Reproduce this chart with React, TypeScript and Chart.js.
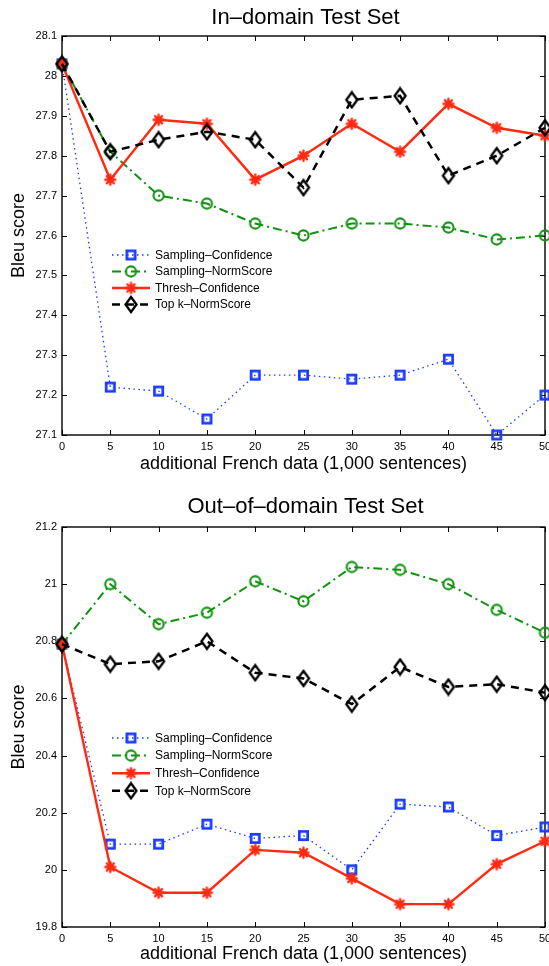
import React, { useEffect, useRef } from 'react';
import { Chart, registerables } from 'chart.js';
Chart.register(...registerables);

// ---------- data ----------
const xValues = [0, 5, 10, 15, 20, 25, 30, 35, 40, 45, 50];
const seriesNames = ['Sampling–Confidence', 'Sampling–NormScore', 'Thresh–Confidence', 'Top k–NormScore'];

const inSamplingConfidence = [28.03, 27.22, 27.21, 27.14, 27.25, 27.25, 27.24, 27.25, 27.29, 27.10, 27.20];
const inSamplingNormScore = [28.03, 27.81, 27.70, 27.68, 27.63, 27.60, 27.63, 27.63, 27.62, 27.59, 27.60];
const inThreshConfidence = [28.03, 27.74, 27.89, 27.88, 27.74, 27.80, 27.88, 27.81, 27.93, 27.87, 27.85];
const inTopKNormScore = [28.03, 27.81, 27.84, 27.86, 27.84, 27.72, 27.94, 27.95, 27.75, 27.80, 27.87];

const outSamplingConfidence = [20.79, 20.09, 20.09, 20.16, 20.11, 20.12, 20.00, 20.23, 20.22, 20.12, 20.15];
const outSamplingNormScore = [20.79, 21.00, 20.86, 20.90, 21.01, 20.94, 21.06, 21.05, 21.00, 20.91, 20.83];
const outThreshConfidence = [20.79, 20.01, 19.92, 19.92, 20.07, 20.06, 19.97, 19.88, 19.88, 20.02, 20.10];
const outTopKNormScore = [20.79, 20.72, 20.73, 20.80, 20.69, 20.67, 20.58, 20.71, 20.64, 20.65, 20.62];

const inTitle = 'In–domain Test Set';
const outTitle = 'Out–of–domain Test Set';
const xTitle = 'additional French data (1,000 sentences)';
const yTitle = 'Bleu score';
const inYRange = [27.1, 28.1, 0.1];
const outYRange = [19.8, 21.2, 0.2];
const xRange = [0, 50, 5];

// ---------- styles ----------
const FONT = "'Liberation Sans', Arial, Helvetica, sans-serif";
const styles = [
  { color: '#1a3cff', width: 1.3, dash: [1.5, 3.5], marker: 'square' },
  { color: '#119211', width: 2, dash: [9, 4, 2, 4], marker: 'circle' },
  { color: '#ff2a12', width: 2.4, dash: [] as number[], marker: 'star' },
  { color: '#000000', width: 2.5, dash: [8, 6], marker: 'diamond' },
];

function makeMarker(kind: string, color: string): HTMLCanvasElement {
  const c = document.createElement('canvas');
  const ctx = c.getContext('2d')!;
  if (kind === 'square') {
    c.width = 13; c.height = 13;
    ctx.strokeStyle = color; ctx.lineWidth = 2.7;
    ctx.strokeRect(2.35, 2.35, 8.3, 8.3);
  } else if (kind === 'circle') {
    c.width = 15; c.height = 15;
    ctx.strokeStyle = color; ctx.lineWidth = 2.1;
    ctx.beginPath(); ctx.arc(7.5, 7.5, 5.1, 0, Math.PI * 2); ctx.stroke();
  } else if (kind === 'star') {
    c.width = 15; c.height = 15;
    ctx.strokeStyle = color; ctx.lineWidth = 2.4; ctx.lineCap = 'round';
    const r = 5;
    ctx.beginPath();
    for (let k = 0; k < 4; k++) {
      const a = (k * Math.PI) / 4;
      ctx.moveTo(7.5 + r * Math.cos(a), 7.5 + r * Math.sin(a));
      ctx.lineTo(7.5 - r * Math.cos(a), 7.5 - r * Math.sin(a));
    }
    ctx.stroke();
    ctx.fillStyle = color;
    ctx.beginPath(); ctx.arc(7.5, 7.5, 2.5, 0, Math.PI * 2); ctx.fill();
  } else {
    c.width = 16; c.height = 19;
    ctx.strokeStyle = color; ctx.lineWidth = 2.3;
    ctx.beginPath();
    ctx.moveTo(8, 2); ctx.lineTo(13.5, 9.5); ctx.lineTo(8, 17); ctx.lineTo(2.5, 9.5); ctx.closePath();
    ctx.stroke();
  }
  return c;
}

interface PanelProps {
  title: string;
  series: number[][];
  yRange: number[];
  height: number;
  padTop: number;
  axisHeight: number;
  titleY: number;
  xTitlePad: number;
  legendTop: number;
  legendGap: number;
}

function Panel(p: PanelProps) {
  const ref = useRef<HTMLCanvasElement>(null);
  useEffect(() => {
    const canvas = ref.current!;
    const markers = styles.map((s) => makeMarker(s.marker, s.color));
    const datasets = p.series.map((vals, i) => ({
      label: seriesNames[i],
      data: xValues.map((x, j) => ({ x, y: vals[j] })),
      borderColor: styles[i].color,
      backgroundColor: styles[i].color,
      borderWidth: styles[i].width,
      borderDash: styles[i].dash,
      pointStyle: markers[i],
      pointRadius: 5,
      pointHoverRadius: 5,
      tension: 0,
      clip: false as any,
      order: 4 - i,
    }));

    const framePlugin = {
      id: 'frame',
      beforeDatasetsDraw(chart: any) {
        const { ctx, chartArea: a, scales } = chart;
        ctx.save();
        ctx.strokeStyle = '#000';
        ctx.lineWidth = 1;
        const tl = 5;
        ctx.beginPath();
        scales.x.ticks.forEach((t: any) => {
          const px = Math.round(scales.x.getPixelForValue(t.value)) + 0.5;
          ctx.moveTo(px, a.bottom); ctx.lineTo(px, a.bottom - tl);
          ctx.moveTo(px, a.top); ctx.lineTo(px, a.top + tl);
        });
        scales.y.ticks.forEach((t: any) => {
          const py = Math.round(scales.y.getPixelForValue(t.value)) + 0.5;
          ctx.moveTo(a.left, py); ctx.lineTo(a.left + tl, py);
          ctx.moveTo(a.right, py); ctx.lineTo(a.right - tl, py);
        });
        ctx.stroke();
        ctx.lineWidth = 1.4;
        ctx.strokeRect(a.left, a.top, a.right - a.left, a.bottom - a.top);
        ctx.restore();
      },
      afterDatasetsDraw(chart: any) {
        const { ctx, chartArea: a } = chart;
        ctx.save();
        chart.data.datasets.forEach((ds: any, i: number) => {
          const y = a.top + p.legendTop + i * p.legendGap;
          ctx.strokeStyle = ds.borderColor;
          ctx.lineWidth = ds.borderWidth;
          ctx.setLineDash(ds.borderDash);
          ctx.beginPath();
          ctx.moveTo(112, y); ctx.lineTo(150, y);
          ctx.stroke();
          ctx.setLineDash([]);
          const m = ds.pointStyle as HTMLCanvasElement;
          ctx.drawImage(m, 131 - m.width / 2, y - m.height / 2);
          ctx.fillStyle = '#000';
          ctx.font = `12px ${FONT}`;
          ctx.textBaseline = 'middle';
          ctx.textAlign = 'left';
          ctx.fillText(ds.label, 155, y + 0.5);
        });
        ctx.restore();
      },
      afterDraw(chart: any) {
        const { ctx, chartArea: a } = chart;
        ctx.save();
        ctx.fillStyle = '#000';
        ctx.font = `22px ${FONT}`;
        ctx.textAlign = 'center';
        ctx.textBaseline = 'middle';
        ctx.fillText(p.title, (a.left + a.right) / 2 + 2, p.titleY);
        ctx.restore();
      },
    };

    const chart = new Chart(canvas, {
      type: 'line',
      data: { datasets: datasets as any },
      plugins: [framePlugin],
      options: {
        animation: false,
        responsive: false,
        devicePixelRatio: 1,
        layout: { autoPadding: false, padding: { top: p.padTop, right: 4, bottom: 0, left: 0 } },
        plugins: { legend: { display: false }, tooltip: { enabled: false }, title: { display: false } },
        scales: {
          x: {
            type: 'linear',
            min: xRange[0],
            max: xRange[1],
            grid: { display: false, drawTicks: false },
            border: { display: false },
            ticks: {
              stepSize: xRange[2],
              autoSkip: false,
              maxRotation: 0,
              padding: 5,
              color: '#000',
              font: { family: FONT, size: 11 },
            },
            title: {
              display: true,
              text: xTitle,
              color: '#000',
              font: { family: FONT, size: 18 },
              padding: { top: 0, bottom: p.xTitlePad },
            },
            afterFit: (s: any) => {
              s.height = p.axisHeight;
              s.paddingLeft = 0;
              s.paddingRight = 0;
            },
          },
          y: {
            type: 'linear',
            min: p.yRange[0],
            max: p.yRange[1],
            grid: { display: false, drawTicks: false },
            border: { display: false },
            ticks: {
              stepSize: p.yRange[2],
              autoSkip: false,
              padding: 5,
              color: '#000',
              font: { family: FONT, size: 11 },
              callback: (v: any) => String(Math.round(Number(v) * 10) / 10),
            },
            title: {
              display: true,
              text: yTitle,
              color: '#000',
              font: { family: FONT, size: 18 },
              padding: { top: 8, bottom: 0 },
            },
            afterFit: (s: any) => {
              s.width = 62;
              s.paddingTop = 0;
              s.paddingBottom = 0;
            },
          },
        },
      },
    });
    return () => chart.destroy();
  }, []);
  return <canvas ref={ref} width={549} height={p.height} style={{ display: 'block', width: 549, height: p.height }} />;
}

export default function App() {
  return (
    <div style={{ position: 'absolute', left: 0, top: 0, width: 549, height: 966, background: '#fff' }}>
      <Panel
        title={inTitle}
        series={[inSamplingConfidence, inSamplingNormScore, inThreshConfidence, inTopKNormScore]}
        yRange={inYRange}
        height={483}
        padTop={36}
        axisHeight={48}
        titleY={18}
        xTitlePad={8}
        legendTop={219}
        legendGap={16.5}
      />
      <Panel
        title={outTitle}
        series={[outSamplingConfidence, outSamplingNormScore, outThreshConfidence, outTopKNormScore]}
        yRange={outYRange}
        height={483}
        padTop={44}
        axisHeight={39}
        titleY={24}
        xTitlePad={1}
        legendTop={211}
        legendGap={17.6}
      />
    </div>
  );
}
